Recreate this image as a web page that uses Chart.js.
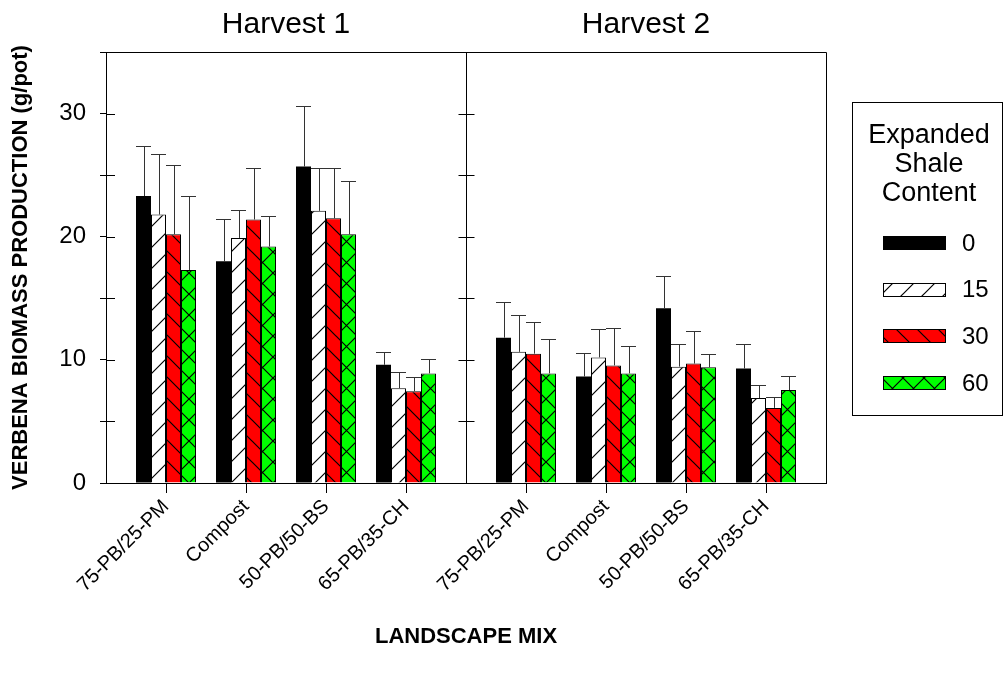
<!DOCTYPE html>
<html>
<head>
<meta charset="utf-8">
<script src="https://cdn.jsdelivr.net/npm/chart.js@4.4.1/dist/chart.umd.min.js"></script>
<style>
body { margin: 0; background: #fff; }
#wrap { width: 1005px; height: 677px; }
</style>
</head>
<body>
<div id="wrap"><canvas id="chart" width="1005" height="677"></canvas></div>
<script>
// mixes and harvests
const categories = ['75-PB/25-PM', 'Compost', '50-PB/50-BS', '65-PB/35-CH'];
const harvests = ['Harvest 1', 'Harvest 2'];
const shaleLevels = ['0', '15', '30', '60'];

// means, first 4 = harvest 1, last 4 = harvest 2
const mean0 = [23.3, 18.0, 25.7, 9.6, 11.8, 8.65, 14.2, 9.3];
const mean15 = [21.8, 19.9, 22.1, 7.7, 10.65, 10.2, 9.45, 6.9];
const mean30 = [20.2, 21.4, 21.5, 7.45, 10.5, 9.55, 9.7, 6.1];
const mean60 = [17.3, 19.2, 20.2, 8.9, 8.9, 8.9, 9.4, 7.55];

// standard errors (upper bar only)
const err0 = [4.1, 3.4, 4.9, 1.0, 2.9, 1.9, 2.6, 2.0];
const err15 = [4.9, 2.3, 3.5, 1.3, 3.0, 2.3, 1.8, 1.05];
const err30 = [5.6, 4.2, 4.1, 1.15, 2.6, 3.05, 2.65, 0.9];
const err60 = [6.0, 2.5, 4.3, 1.2, 2.8, 2.2, 1.05, 1.1];

const yTicksMax = 35;

Chart.defaults.font.family = '"Liberation Sans", Arial, sans-serif';
Chart.defaults.color = '#000';

const canvas = document.getElementById('chart');
const mainCtx = canvas.getContext('2d');

function hatch(kind, bg) {
    const P = 21;
    const c = document.createElement('canvas');
    c.width = P; c.height = P;
    const g = c.getContext('2d');
    g.fillStyle = bg;
    g.fillRect(0, 0, P, P);
    g.strokeStyle = '#000';
    g.lineWidth = 1.2;
    g.beginPath();
    if (kind == '/' || kind == 'x') {
        g.moveTo(0, P); g.lineTo(P, 0);
        g.moveTo(-2, 2); g.lineTo(2, -2);
        g.moveTo(P - 2, P + 2); g.lineTo(P + 2, P - 2);
    }
    if (kind == '\\' || kind == 'x') {
        g.moveTo(0, 0); g.lineTo(P, P);
        g.moveTo(-2, P - 2); g.lineTo(2, P + 2);
        g.moveTo(P - 2, -2); g.lineTo(P + 2, 2);
    }
    g.stroke();
    return mainCtx.createPattern(c, 'repeat');
}

const fills = ['#000000', hatch('/', '#ffffff'), hatch('\\', '#ff0000'), hatch('x', '#00ff00')];
const means = [mean0, mean15, mean30, mean60];
const errs = [err0, err15, err30, err60];

// group centre on the x axis: 4 mixes per harvest, panel is 4.5 units wide
const panelWidth = 4.5;
const groupPos = [];
harvests.forEach((h, hi) => {
    categories.forEach((c, ci) => groupPos.push(hi * panelWidth + 0.75 + ci));
});
const tickLabels = harvests.flatMap(() => categories);

const datasets = shaleLevels.map((lvl, k) => ({
    label: lvl,
    data: means[k].map((v, i) => ({ x: groupPos[i], y: v })),
    err: errs[k],
    backgroundColor: fills[k],
    borderColor: '#000',
    borderWidth: k === 0 ? 0 : 1,
    borderSkipped: 'bottom'
}));

const overlay = {
    id: 'overlay',
    afterDatasetsDraw(chart) {
        const ctx = chart.ctx;
        const y = chart.scales.y;
        ctx.save();
        ctx.strokeStyle = '#333';
        ctx.lineWidth = 1;
        chart.data.datasets.forEach((ds, k) => {
            const meta = chart.getDatasetMeta(k);
            meta.data.forEach((bar, i) => {
                const top = Math.round(y.getPixelForValue(means[k][i] + ds.err[i])) + 0.5;
                const cx = Math.round(bar.x) + 0.5;
                const half = bar.width / 2;
                ctx.beginPath();
                ctx.moveTo(cx, bar.y);
                ctx.lineTo(cx, top);
                ctx.moveTo(bar.x - half, top);
                ctx.lineTo(bar.x + half, top);
                ctx.stroke();
            });
        });
        ctx.restore();
    },
    afterDraw(chart) {
        const ctx = chart.ctx;
        const a = chart.chartArea;
        const x = chart.scales.x;
        const y = chart.scales.y;
        const xd = Math.round(x.getPixelForValue(panelWidth)) + 0.5;
        ctx.save();
        ctx.strokeStyle = '#000';
        ctx.lineWidth = 1;
        ctx.beginPath();
        ctx.moveTo(a.left, a.top + 0.5);
        ctx.lineTo(a.right + 0.5, a.top + 0.5);
        ctx.lineTo(a.right + 0.5, a.bottom);
        ctx.moveTo(xd, a.top);
        ctx.lineTo(xd, a.bottom);
        y.ticks.forEach(t => {
            const py = Math.round(y.getPixelForValue(t.value)) + 0.5;
            ctx.moveTo(a.left, py);
            ctx.lineTo(a.left + 9, py);
            ctx.moveTo(xd - 8, py);
            ctx.lineTo(xd + 8, py);
        });
        ctx.stroke();

        // panel titles
        ctx.fillStyle = '#000';
        ctx.font = '30px "Liberation Sans", Arial, sans-serif';
        ctx.textAlign = 'center';
        ctx.textBaseline = 'alphabetic';
        harvests.forEach((h, hi) => {
            ctx.fillText(h, x.getPixelForValue(hi * panelWidth + panelWidth / 2), 33);
        });

        // legend
        ctx.strokeRect(852.5, 102.5, 150, 313);
        ctx.font = '27px "Liberation Sans", Arial, sans-serif';
        ['Expanded', 'Shale', 'Content'].forEach((s, i) => {
            ctx.fillText(s, 929, 143 + i * 29);
        });
        ctx.font = '24px "Liberation Sans", Arial, sans-serif';
        ctx.textAlign = 'left';
        ctx.textBaseline = 'middle';
        chart.data.datasets.forEach((ds, k) => {
            const cy = 243 + k * 46.7;
            ctx.fillStyle = ds.backgroundColor;
            ctx.fillRect(883, Math.round(cy - 7), 63, 14);
            if (k > 0) {
                ctx.strokeRect(883.5, Math.round(cy - 7) + 0.5, 62, 13);
            }
            ctx.fillStyle = '#000';
            ctx.fillText(ds.label, 962, cy + 1);
        });
        ctx.restore();
    }
};

new Chart(canvas, {
    type: 'bar',
    data: { datasets: datasets },
    plugins: [overlay],
    options: {
        responsive: false,
        animation: false,
        devicePixelRatio: 1,
        layout: { padding: { top: 52, right: 179, left: 0, bottom: 0 } },
        plugins: {
            legend: { display: false },
            tooltip: { enabled: false }
        },
        datasets: { bar: { categoryPercentage: 0.75, barPercentage: 1 } },
        scales: {
            x: {
                type: 'linear',
                min: 0,
                max: panelWidth * harvests.length,
                offset: false,
                afterBuildTicks: s => { s.ticks = groupPos.map(v => ({ value: v })); },
                afterFit: s => { s.height = 194; },
                grid: { drawOnChartArea: false, offset: false, tickLength: 10, color: '#000' },
                border: { color: '#000', width: 1 },
                ticks: {
                    autoSkip: false,
                    minRotation: 45,
                    maxRotation: 45,
                    padding: 2,
                    font: { size: 20 },
                    callback: (v, i) => tickLabels[i]
                },
                title: {
                    display: true,
                    text: 'LANDSCAPE MIX',
                    font: { size: 22, weight: 'bold' },
                    padding: { bottom: 27 }
                }
            },
            y: {
                min: 0,
                max: yTicksMax,
                afterFit: s => { s.width = 106; },
                grid: { drawOnChartArea: false, tickLength: 6, color: '#000' },
                border: { color: '#000', width: 1 },
                ticks: {
                    stepSize: 5,
                    padding: 14,
                    font: { size: 24 },
                    callback: v => (v % 10 === 0 ? v : '')
                },
                title: {
                    display: true,
                    text: 'VERBENA BIOMASS PRODUCTION (g/pot)',
                    font: { size: 22, weight: 'bold' },
                    padding: { top: 8 }
                }
            }
        }
    }
});
</script>
</body>
</html>
